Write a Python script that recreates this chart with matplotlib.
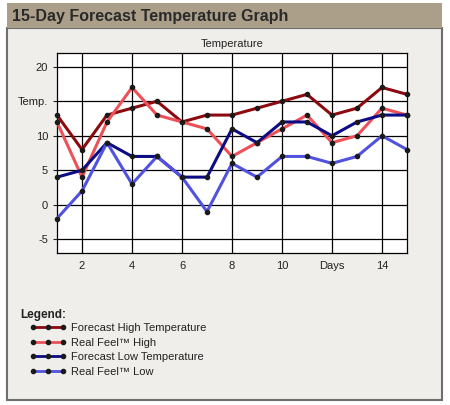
import matplotlib
matplotlib.use('Agg')
import matplotlib.pyplot as plt
from matplotlib.patches import Rectangle
from matplotlib.lines import Line2D

plt.rcParams['font.family'] = ['Liberation Sans', 'DejaVu Sans']

days = list(range(1, 16))
forecast_high = [13, 8, 13, 14, 15, 12, 13, 13, 14, 15, 16, 13, 14, 17, 16]
realfeel_high = [12, 4, 12, 17, 13, 12, 11, 7, 9, 11, 13, 9, 10, 14, 13]
forecast_low = [4, 5, 9, 7, 7, 4, 4, 11, 9, 12, 12, 10, 12, 13, 13]
realfeel_low = [-2, 2, 9, 3, 7, 4, -1, 6, 4, 7, 7, 6, 7, 10, 8]

series_names = ['Forecast High Temperature', 'Real Feel\u2122 High',
                'Forecast Low Temperature', 'Real Feel\u2122 Low']
series_colors = ['#8c0a0f', '#ee5058', '#0c0c86', '#5252e0']

x_ticks = [2, 4, 6, 8, 10, 12, 14]
x_ticklabels = ['2', '4', '6', '8', '10', 'Days', '14']
y_ticks = [-5, 0, 5, 10, 15, 20]
y_ticklabels = ['-5', '0', '5', '10', 'Temp.', '20']

W, H = 450, 405
fig = plt.figure(figsize=(4.5, 4.05), dpi=100)
fig.patch.set_facecolor('white')

# panel and header bar
fig.patches.append(Rectangle((7 / W, (H - 400) / H), 435 / W, 372 / H,
                             transform=fig.transFigure, facecolor='#efeeea',
                             edgecolor='#6e6e6e', linewidth=1.5, zorder=-2))
fig.patches.append(Rectangle((7 / W, (H - 28) / H), 435 / W, 25 / H,
                             transform=fig.transFigure, facecolor='#ab9f89',
                             edgecolor='none', zorder=-1))
fig.patches.append(Rectangle((7 / W, (H - 29) / H), 435 / W, 1.5 / H,
                             transform=fig.transFigure, facecolor='#6e6e6e',
                             edgecolor='none', zorder=-1))
fig.text(12 / W, (H - 16) / H, '15-Day Forecast Temperature Graph',
         fontsize=11.5, fontweight='bold', color='#2a2a2a', va='center', ha='left')

ax = fig.add_axes([57 / W, (H - 253) / H, 350 / W, 200 / H])
ax.set_zorder(2)
ax.set_facecolor('white')

all_series = [forecast_high, realfeel_high, forecast_low, realfeel_low]
for vals, name, col in zip(all_series, series_names, series_colors):
    ax.plot(days, vals, color=col, linewidth=2.2, marker='o', markersize=3,
            markerfacecolor='#1a1a1a', markeredgecolor='#1a1a1a', label=name,
            clip_on=False, zorder=3)

ax.set_xlim(1, 15)
ax.set_ylim(-7, 22)
ax.set_xticks(x_ticks)
ax.set_xticklabels(x_ticklabels)
ax.set_yticks(y_ticks)
ax.set_yticklabels(y_ticklabels)
ax.grid(True, color='black', linewidth=0.9)
ax.set_axisbelow(True)
ax.tick_params(axis='both', labelsize=8, colors='#222222', length=3, width=0.8)
ax.tick_params(axis='x', length=0, pad=6)
for s in ax.spines.values():
    s.set_linewidth(0.9)
    s.set_color('black')
ax.set_title('Temperature', fontsize=8, color='#222222', pad=4)

# legend
fig.text(20 / W, (H - 315) / H, 'Legend:', fontsize=8.5, fontweight='bold',
         color='#222222', va='center', ha='left')
handles = [Line2D([], [], color=c, linewidth=2, marker='o', markersize=3,
                  markerfacecolor='#1a1a1a', markeredgecolor='#1a1a1a')
           for c in series_colors]
fig.legend(handles, series_names, loc='upper left',
           bbox_to_anchor=(30 / W, (H - 323) / H), frameon=False, fontsize=8,
           numpoints=3, handlelength=3.3, handletextpad=0.35, labelspacing=0.42,
           borderpad=0, borderaxespad=0, labelcolor='#222222')

fig.savefig('out.png', dpi=100)
